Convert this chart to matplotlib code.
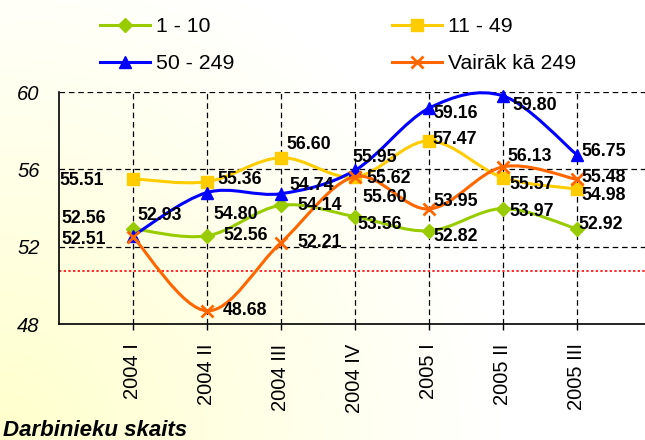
import numpy as np
import matplotlib
matplotlib.use("Agg")
import matplotlib.pyplot as plt
from matplotlib.path import Path
from matplotlib.patches import PathPatch
from matplotlib.lines import Line2D

plt.rcParams['font.family'] = ['Liberation Sans', 'DejaVu Sans']

# --- data -------------------------------------------------------------
periods = ["2004 I", "2004 II", "2004 III", "2004 IV", "2005 I", "2005 II", "2005 III"]
series_names = ["1 - 10", "11 - 49", "50 - 249", "Vairāk kā 249"]
size_1_10 = [52.93, 52.56, 54.14, 53.56, 52.82, 53.97, 52.92]
size_11_49 = [55.51, 55.36, 56.60, 55.60, 57.47, 55.57, 54.98]
size_50_249 = [52.56, 54.80, 54.74, 55.95, 59.16, 59.80, 56.75]
size_over_249 = [52.51, 48.68, 52.21, 55.62, 53.95, 56.13, 55.48]
reference_level = 50.76
y_ticks = [48, 52, 56, 60]
axis_title = "Darbinieku skaits"

# --- styling ----------------------------------------------------------
colors = ["#99CC00", "#FFCC00", "#0000FF", "#FF6600"]
markers = ["D", "s", "^", "x"]
marker_sizes = [7, 8, 8, 8]
# label offsets in pixels (dx, dy) for each point of each series
label_offsets = [
    [(4, 13), (16, 0), (16, 0), (2, -8), (4, -6), (6, -3), (2, 4)],
    [(-74, -2), (10, 2), (5, 13), (7, -20), (3, 1), (6, -7), (5, -6)],
    [(-72, 17), (6, -22), (8, 8), (-3, 13), (4, -5), (9, -10), (5, 3)],
    [(-72, -3), (16, 0), (16, 0), (11, -2), (4, 7), (4, 10), (5, 2)],
]

W, H, DPI = 645, 440, 100
fig = plt.figure(figsize=(W / DPI, H / DPI), dpi=DPI)
fig.patch.set_facecolor("white")

# soft pale-yellow wash rising from the lower-left corner
bg = fig.add_axes([0, 0, 1, 1], zorder=-10)
yy, xx = np.mgrid[0:H, 0:W]
dist = np.sqrt(xx ** 2 + (H - yy) ** 2)
w = np.clip(1 - dist / 500.0, 0, 1)
img = np.ones((H, W, 3))
img[..., 2] = 1 - 0.2 * w
bg.imshow(img, aspect="auto", extent=[0, 1, 0, 1], origin="upper")
bg.axis("off")

left, right = 59 / W, 1.0
bottom, top = (H - 324) / H, (H - 92) / H
ax = fig.add_axes([left, bottom, right - left, top - bottom])
ax.set_facecolor("none")
ax.set_xlim(-1, 6.92)
ax.set_ylim(48, 60)

x = np.arange(len(periods))


def smooth_path(xs, ys):
    pts = np.column_stack([xs, ys]).astype(float)
    n = len(pts)
    verts = [pts[0]]
    codes = [Path.MOVETO]
    for i in range(n - 1):
        p0 = pts[max(i - 1, 0)]
        p1 = pts[i]
        p2 = pts[i + 1]
        p3 = pts[min(i + 2, n - 1)]
        c1 = p1 + (p2 - p0) / 6.0
        c2 = p2 - (p3 - p1) / 6.0
        verts += [c1, c2, p2]
        codes += [Path.CURVE4] * 3
    return Path(verts, codes)


# grid
dash = (0, (4.5, 3))
for yv in y_ticks[1:]:
    ax.axhline(yv, color="black", lw=0.9, linestyle=dash, zorder=1)
for xv in x:
    ax.axvline(xv, color="black", lw=0.9, linestyle=dash, zorder=1)

ax.axhline(reference_level, color="#FF2A2A", lw=1.4, linestyle=(0, (1.2, 1.2)), zorder=2)

all_series = [size_1_10, size_11_49, size_50_249, size_over_249]
handles = []
for k, vals in enumerate(all_series):
    patch = PathPatch(smooth_path(x, vals), fill=False, edgecolor=colors[k],
                      lw=2.2, clip_on=False, zorder=3 + k)
    ax.add_patch(patch)
    mew = 2.0 if markers[k] == "x" else 1
    ax.plot(x, vals, linestyle="none", marker=markers[k], ms=marker_sizes[k],
            color=colors[k], mec=colors[k], mew=mew, clip_on=False, zorder=3 + k)
    handles.append(Line2D([], [], color=colors[k], lw=2.2, marker=markers[k],
                          ms=marker_sizes[k], mec=colors[k], mew=mew))

for k, vals in enumerate(all_series):
    for i, v in enumerate(vals):
        dx, dy = label_offsets[k][i]
        ax.annotate(f"{v:.2f}", (x[i], v), xytext=(dx, dy), textcoords="offset pixels",
                    ha="left", va="center", fontsize=12.8, fontweight="bold",
                    color="black", zorder=10, annotation_clip=False)

# axes
for s in ["top", "right"]:
    ax.spines[s].set_visible(False)
for s in ["left", "bottom"]:
    ax.spines[s].set_color("black")
    ax.spines[s].set_linewidth(1.2)
    ax.spines[s].set_zorder(9)

ax.set_yticks(y_ticks)
ax.set_yticklabels([str(t) for t in y_ticks], fontsize=14.5, fontstyle="italic")
ax.tick_params(axis="y", length=0, pad=14)
ax.set_xticks(x)
ax.set_xticklabels(periods, rotation=90, fontsize=14.5)
ax.tick_params(axis="x", length=4, width=1, direction="out", pad=10)

# legend laid out row by row: (1-10, 11-49) on top, (50-249, >249) below
order = [0, 2, 1, 3]
fig.legend([handles[i] for i in order], [series_names[i] for i in order],
           loc="upper left", bbox_to_anchor=(100 / W, 1 - 17 / H), ncol=2,
           frameon=False, fontsize=15.3, handlelength=2.35, handletextpad=0.3,
           columnspacing=7.4, labelspacing=0.85, borderpad=0, borderaxespad=0)

fig.text(3 / W, (H - 436) / H, axis_title, fontsize=16, fontweight="bold",
         fontstyle="italic", ha="left", va="baseline")

fig.savefig("out.png", dpi=DPI)
